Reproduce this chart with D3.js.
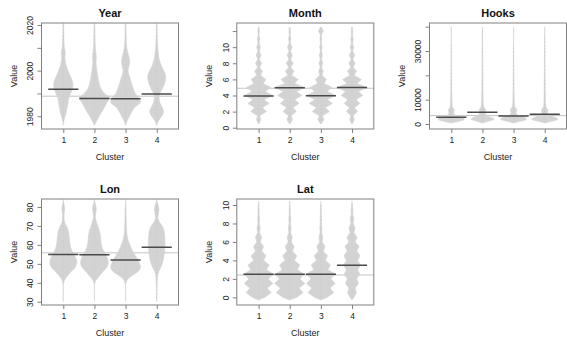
<!DOCTYPE html>
<html><head><meta charset="utf-8">
<script src="https://cdn.jsdelivr.net/npm/d3@7"></script>
<style>body{margin:0;background:#fff}svg{display:block}text{font-family:"Liberation Sans",Arial,Helvetica,sans-serif}</style>
</head><body><svg id="c" width="567" height="347"></svg>
<script>
const clusters = [1, 2, 3, 4];

// ---- Year ----
const yearGrid = [1976,1978,1980,1982,1984,1986,1988,1990,1992,1994,1996,1998,2000,2002,2004,2006,2008,2010,2012,2014,2016,2018,2020,2021];
const yearC1 = [0,0.04,0.12,0.2,0.25,0.3,0.35,0.47,0.58,0.62,0.55,0.42,0.3,0.2,0.13,0.1,0.13,0.07,0.05,0.04,0.03,0.025,0.02,0];
const yearC2 = [0,0.15,0.3,0.48,0.65,0.8,0.97,0.65,0.42,0.32,0.26,0.2,0.16,0.12,0.1,0.12,0.09,0.06,0.045,0.04,0.035,0.03,0.02,0];
const yearC3 = [0,0.1,0.25,0.4,0.6,0.95,0.85,0.62,0.5,0.4,0.32,0.22,0.16,0.22,0.26,0.22,0.14,0.08,0.05,0.04,0.03,0.03,0.02,0];
const yearC4 = [0,0.12,0.32,0.44,0.34,0.2,0.15,0.2,0.35,0.48,0.56,0.57,0.45,0.3,0.2,0.13,0.1,0.07,0.05,0.04,0.03,0.03,0.02,0];
const yearMeans = [1991.8, 1987.8, 1987.7, 1989.8];
const yearOverall = 1988.8;
const yearTicks = [1980, 1990, 2000, 2010, 2020];
const yearTickLabels = ["1980", "", "2000", "", "2020"];

// ---- Month ----
const monthGrid = [0.5,1,1.5,2,2.5,3,3.5,4,4.5,5,5.5,6,6.5,7,7.5,8,8.5,9,9.5,10,10.5,11,11.5,12,12.5];
const monthC1 = [0.02,0.14,0.07,0.5,0.25,0.68,0.35,0.9,0.42,0.78,0.3,0.47,0.12,0.25,0.06,0.2,0.05,0.16,0.04,0.12,0.03,0.08,0.02,0.05,0.01];
const monthC2 = [0.02,0.18,0.08,0.42,0.2,0.6,0.32,0.78,0.42,0.97,0.3,0.55,0.12,0.28,0.06,0.22,0.05,0.17,0.04,0.15,0.03,0.08,0.02,0.05,0.01];
const monthC3 = [0.02,0.2,0.1,0.55,0.28,0.75,0.4,0.95,0.4,0.7,0.2,0.35,0.07,0.15,0.04,0.12,0.035,0.1,0.03,0.08,0.025,0.06,0.03,0.16,0.02];
const monthC4 = [0.02,0.15,0.07,0.35,0.17,0.5,0.27,0.7,0.4,0.95,0.32,0.6,0.13,0.3,0.07,0.2,0.05,0.18,0.04,0.12,0.03,0.08,0.02,0.05,0.01];
const monthMeans = [3.95, 4.97, 3.97, 4.98];
const monthOverall = 4.9;
const monthTicks = [0, 2, 4, 6, 8, 10, 12];
const monthTickLabels = ["0", "2", "4", "6", "8", "10", ""];

// ---- Hooks ----
const hooksGrid = [500,1000,1500,2000,2500,3000,3500,4000,4500,5000,5500,6000,6500,7000,8000,9000,10000,12000,14000,17000,20000,25000,30000,33000,36000,39000,40000];
const hooksC1 = [0.05,0.4,0.75,0.85,0.75,0.5,0.3,0.18,0.14,0.16,0.19,0.18,0.12,0.07,0.05,0.045,0.04,0.035,0.03,0.025,0.02,0.015,0.01,0.003,0,0,0];
const hooksC2 = [0.05,0.3,0.6,0.75,0.65,0.45,0.3,0.22,0.18,0.19,0.21,0.2,0.14,0.09,0.06,0.05,0.045,0.04,0.035,0.03,0.025,0.02,0.015,0.012,0.008,0.004,0];
const hooksC3 = [0.05,0.35,0.7,0.85,0.78,0.55,0.32,0.2,0.16,0.17,0.2,0.2,0.14,0.08,0.05,0.045,0.04,0.035,0.03,0.025,0.02,0.015,0.01,0.003,0,0,0];
const hooksC4 = [0.05,0.35,0.7,0.85,0.75,0.55,0.35,0.22,0.17,0.18,0.2,0.19,0.13,0.08,0.055,0.05,0.045,0.04,0.035,0.03,0.025,0.02,0.015,0.01,0.006,0,0];
const hooksMeans = [2750, 4850, 3300, 4000];
const hooksOverall = 3450;
const hooksTicks = [0, 10000, 20000, 30000, 40000];
const hooksTickLabels = ["0", "10000", "", "30000", ""];

// ---- Lon ----
const lonGrid = [30,32,34,36,38,40,42,44,46,48,50,52,54,56,58,60,62,64,66,68,70,72,74,76,78,80,82,84];
const lonC1 = [0,0,0,0,0,0.02,0.12,0.3,0.5,0.75,0.85,0.85,0.75,0.62,0.5,0.44,0.4,0.38,0.35,0.3,0.2,0.08,0.05,0.05,0.08,0.08,0.03,0];
const lonC2 = [0,0,0,0,0,0.03,0.15,0.35,0.55,0.78,0.88,0.86,0.78,0.65,0.52,0.45,0.41,0.39,0.36,0.3,0.22,0.14,0.07,0.07,0.11,0.11,0.04,0];
const lonC3 = [0,0,0,0,0,0.03,0.15,0.45,0.8,0.95,0.9,0.8,0.65,0.5,0.38,0.28,0.18,0.12,0.08,0.06,0.05,0.04,0.04,0.03,0.03,0.02,0.01,0];
const lonC4 = [0,0.015,0.015,0.02,0.02,0.03,0.04,0.06,0.13,0.25,0.35,0.42,0.46,0.5,0.52,0.53,0.53,0.52,0.5,0.45,0.35,0.18,0.08,0.1,0.14,0.13,0.05,0];
const lonMeans = [54.9, 54.8, 52.0, 58.8];
const lonOverall = 55.8;
const lonTicks = [30, 40, 50, 60, 70, 80];
const lonTickLabels = ["30", "40", "50", "60", "70", "80"];

// ---- Lat ----
const latGrid = [-0.3,0,0.5,1,1.5,2,2.5,3,3.5,4,4.5,5,5.5,6,6.5,7,7.5,8,8.5,9,9.5,10,10.4];
const latC1 = [0,0.4,0.8,0.55,0.92,0.62,0.95,0.5,0.68,0.32,0.48,0.2,0.32,0.11,0.2,0.06,0.1,0.04,0.06,0.03,0.04,0.015,0];
const latC2 = [0,0.45,0.85,0.6,0.97,0.65,0.92,0.48,0.65,0.3,0.45,0.18,0.28,0.1,0.16,0.06,0.09,0.04,0.06,0.03,0.04,0.015,0];
const latC3 = [0,0.4,0.82,0.58,0.92,0.62,0.95,0.45,0.62,0.28,0.42,0.16,0.26,0.08,0.12,0.05,0.07,0.035,0.05,0.025,0.035,0.015,0];
const latC4 = [0,0.12,0.28,0.2,0.42,0.3,0.5,0.36,0.55,0.35,0.52,0.3,0.45,0.2,0.32,0.12,0.2,0.07,0.12,0.04,0.06,0.02,0];
const latMeans = [2.5, 2.5, 2.5, 3.48];
const latOverall = 2.42;
const latTicks = [0, 2, 4, 6, 8, 10];
const latTickLabels = ["0", "2", "4", "6", "8", "10"];

const panels = [
  {title:"Year", grid:yearGrid, widths:[yearC1,yearC2,yearC3,yearC4], means:yearMeans, overall:yearOverall, ticks:yearTicks, labels:yearTickLabels, domain:[1974.4,2020.9], left:41.5, top:23, smooth:true},
  {title:"Month", grid:monthGrid, widths:[monthC1,monthC2,monthC3,monthC4], means:monthMeans, overall:monthOverall, ticks:monthTicks, labels:monthTickLabels, domain:[-0.16,13.0], left:236.8, top:23, smooth:false},
  {title:"Hooks", grid:hooksGrid, widths:[hooksC1,hooksC2,hooksC3,hooksC4], means:hooksMeans, overall:hooksOverall, ticks:hooksTicks, labels:hooksTickLabels, domain:[-2055,41510], left:429.5, top:23, smooth:false},
  {title:"Lon", grid:lonGrid, widths:[lonC1,lonC2,lonC3,lonC4], means:lonMeans, overall:lonOverall, ticks:lonTicks, labels:lonTickLabels, domain:[28.3,84.2], left:41.5, top:199, smooth:true},
  {title:"Lat", grid:latGrid, widths:[latC1,latC2,latC3,latC4], means:latMeans, overall:latOverall, ticks:latTicks, labels:latTickLabels, domain:[-0.83,10.65], left:236.8, top:199, smooth:false}
];

const W = 137, H = 106;
const svg = d3.select("#c");

panels.forEach((p, pi) => {
  const g = svg.append("g").attr("transform", `translate(${p.left},${p.top})`);
  const x = d3.scaleLinear().domain([0.3, 4.7]).range([0, W]);
  const y = d3.scaleLinear().domain(p.domain).range([H, 0]);
  const bw = x(2) - x(1);

  const clipId = "clip" + pi;
  g.append("clipPath").attr("id", clipId).append("rect").attr("width", W).attr("height", H);
  const plot = g.append("g").attr("clip-path", `url(#${clipId})`);

  // overall line
  plot.append("line").attr("x1", 0).attr("x2", W)
    .attr("y1", y(p.overall)).attr("y2", y(p.overall))
    .attr("stroke", "#c4c4c4").attr("stroke-width", 1);

  clusters.forEach((c, ci) => {
    const pts = p.grid.map((v, i) => ({v, w: p.widths[ci][i]}));
    const area = d3.area()
      .y(d => y(d.v))
      .x0(d => x(c) - d.w / 2 * bw)
      .x1(d => x(c) + d.w / 2 * bw)
      .curve(p.smooth ? d3.curveCatmullRom.alpha(0.5) : d3.curveLinear);
    plot.append("path").datum(pts).attr("d", area)
      .attr("fill", "#d3d3d3").attr("stroke", "#d3d3d3").attr("stroke-width", 0.6);
    const nz = pts.filter(d => d.w > 0);
    plot.append("line")
      .attr("x1", x(c)).attr("x2", x(c))
      .attr("y1", y(d3.min(nz, d => d.v))).attr("y2", y(d3.max(nz, d => d.v)))
      .attr("stroke", "#c2c2c2").attr("stroke-width", 0.7).attr("stroke-dasharray", "1,2.5");
  });

  clusters.forEach((c, ci) => {
    plot.append("line")
      .attr("x1", x(c) - 0.485 * bw).attr("x2", x(c) + 0.485 * bw)
      .attr("y1", y(p.means[ci])).attr("y2", y(p.means[ci]))
      .attr("stroke", "#4a4a4a").attr("stroke-width", 1.5);
  });

  // box
  g.append("rect").attr("x", 0).attr("y", 0).attr("width", W).attr("height", H)
    .attr("fill", "none").attr("stroke", "#808080").attr("stroke-width", 1);

  // y axis
  const ya = g.append("g").call(d3.axisLeft(y).tickValues(p.ticks).tickSize(4)
    .tickFormat((d, i) => p.labels[i]));
  ya.select(".domain").remove();
  ya.selectAll(".tick line").attr("stroke", "#808080");
  ya.selectAll(".tick text")
    .attr("transform", "rotate(-90)")
    .attr("x", 0).attr("y", -11).attr("dy", "0.35em")
    .style("text-anchor", "middle")
    .attr("fill", "#222").style("font-size", "8.5px")
    .style("font-family", '"Liberation Sans",Arial,sans-serif');

  // x axis
  const xa = g.append("g").attr("transform", `translate(0,${H})`)
    .call(d3.axisBottom(x).tickValues(clusters).tickSize(4).tickPadding(4).tickFormat(d3.format("d")));
  xa.select(".domain").remove();
  xa.selectAll(".tick line").attr("stroke", "#808080");
  xa.selectAll(".tick text").attr("fill", "#222").style("font-size", "8.5px")
    .style("font-family", '"Liberation Sans",Arial,sans-serif');

  // titles
  g.append("text").attr("x", W / 2).attr("y", -6).attr("text-anchor", "middle")
    .style("font-weight", "bold").style("font-size", "11px").attr("fill", "#111").text(p.title);
  g.append("text").attr("x", W / 2).attr("y", H + 31).attr("text-anchor", "middle")
    .style("font-size", "9px").attr("fill", "#222").text("Cluster");
  g.append("text").attr("transform", `translate(-28,${H / 2}) rotate(-90)`)
    .attr("text-anchor", "middle").attr("dy", "0.35em")
    .style("font-size", "9px").attr("fill", "#222").text("Value");
});
</script></body></html>
